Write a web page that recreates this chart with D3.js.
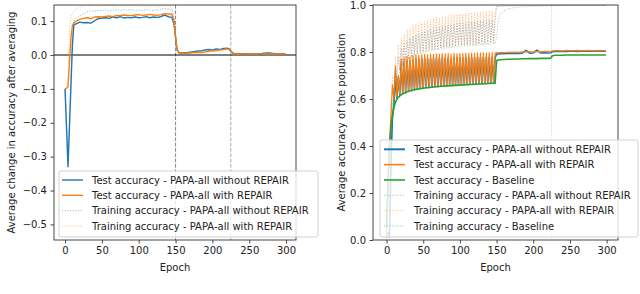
<!DOCTYPE html>
<html>
<head>
<meta charset="utf-8">
<script src="https://cdn.jsdelivr.net/npm/d3@7"></script>
<style>
  body { margin: 0; background: #fff; }
  svg text { font-family: "DejaVu Sans", sans-serif; }
</style>
</head>
<body>
<script>
/* ---------- Left panel: change in accuracy after averaging ---------- */
const epochsL = [0, 2, 4, 6, 8, 10, 12, 15, 20, 25,
  30, 35, 40, 45, 50, 55, 60, 65, 70, 75,
  80, 85, 90, 95, 100, 105, 110, 115, 120, 125,
  130, 135, 140, 145, 148, 150, 152, 155, 160, 165,
  170, 175, 180, 185, 190, 195, 200, 205, 210, 215,
  220, 223, 225, 228, 230, 235, 240, 245, 250, 255,
  260, 265, 270, 275, 280, 285, 290, 295, 299];

const testNoRepairL = [-0.100, -0.215, -0.330, -0.210, -0.090, 0.030, 0.089, 0.092, 0.097, 0.095,
  0.096, 0.094, 0.101, 0.107, 0.109, 0.110, 0.108, 0.112, 0.110, 0.113,
  0.109, 0.111, 0.110, 0.112, 0.110, 0.111, 0.113, 0.110, 0.112, 0.111,
  0.113, 0.118, 0.113, 0.111, 0.090, 0.050, 0.015, 0.007, 0.006, 0.007,
  0.008, 0.010, 0.012, 0.012, 0.015, 0.016, 0.014, 0.018, 0.016, 0.019,
  0.020, 0.018, 0.012, 0.005, 0.004, 0.004, 0.003, 0.004, 0.003, 0.004,
  0.004, 0.003, 0.005, 0.006, 0.005, 0.004, 0.004, 0.004, 0.003];

const testRepairL = [-0.100, -0.098, -0.095, -0.020, 0.050, 0.087, 0.095, 0.100, 0.105, 0.108,
  0.110, 0.107, 0.112, 0.113, 0.112, 0.114, 0.115, 0.113, 0.117, 0.116,
  0.118, 0.117, 0.116, 0.118, 0.119, 0.117, 0.118, 0.120, 0.118, 0.117,
  0.119, 0.122, 0.121, 0.120, 0.100, 0.055, 0.015, 0.005, 0.005, 0.005,
  0.006, 0.007, 0.008, 0.007, 0.009, 0.011, 0.012, 0.012, 0.015, 0.016,
  0.018, 0.017, 0.010, 0.004, 0.003, 0.003, 0.004, 0.003, 0.003, 0.004,
  0.003, 0.004, 0.004, 0.003, 0.004, 0.003, 0.004, 0.003, 0.003];

const trainNoRepairL = [-0.100, -0.210, -0.320, -0.200, -0.080, 0.050, 0.100, 0.108, 0.116, 0.121,
  0.127, 0.130, 0.129, 0.132, 0.131, 0.133, 0.130, 0.132, 0.134, 0.131,
  0.133, 0.132, 0.134, 0.131, 0.133, 0.132, 0.134, 0.133, 0.131, 0.133,
  0.135, 0.137, 0.136, 0.133, 0.110, 0.060, 0.015, 0.006, 0.006, 0.007,
  0.008, 0.009, 0.011, 0.012, 0.014, 0.015, 0.014, 0.017, 0.016, 0.018,
  0.019, 0.017, 0.011, 0.005, 0.004, 0.004, 0.003, 0.004, 0.004, 0.003,
  0.004, 0.004, 0.005, 0.005, 0.005, 0.004, 0.004, 0.004, 0.003];

const trainRepairL = [-0.100, -0.097, -0.090, 0.080, 0.110, 0.121, 0.128, 0.135, 0.141, 0.144,
  0.146, 0.145, 0.147, 0.146, 0.145, 0.147, 0.146, 0.145, 0.146, 0.147,
  0.145, 0.146, 0.147, 0.146, 0.145, 0.146, 0.144, 0.145, 0.146, 0.144,
  0.143, 0.145, 0.144, 0.140, 0.115, 0.062, 0.015, 0.005, 0.005, 0.006,
  0.006, 0.007, 0.008, 0.008, 0.009, 0.011, 0.012, 0.013, 0.014, 0.016,
  0.017, 0.016, 0.010, 0.004, 0.003, 0.003, 0.004, 0.003, 0.003, 0.004,
  0.003, 0.004, 0.004, 0.003, 0.004, 0.003, 0.004, 0.003, 0.003];

/* ---------- Right panel: average accuracy of the population ---------- */
const epochsR = [0, 2, 4, 6, 8, 10, 12, 14, 16, 18,
  20, 22, 24, 26, 28, 30, 32, 34, 36, 38,
  40, 42, 44, 46, 48, 50, 52, 54, 56, 58,
  60, 62, 64, 66, 68, 70, 72, 74, 76, 78,
  80, 82, 84, 86, 88, 90, 92, 94, 96, 98,
  100, 102, 104, 106, 108, 110, 112, 114, 116, 118,
  120, 122, 124, 126, 128, 130, 132, 134, 136, 138,
  140, 142, 144, 146, 148, 150, 152, 155, 160, 165,
  170, 175, 180, 185, 190, 195, 200, 205, 210, 215,
  220, 224, 226, 230, 235, 240, 245, 250, 255, 260,
  265, 270, 275, 280, 285, 290, 295, 299];

const testNoRepairR = [0.020, 0.030, 0.015, 0.320, 0.520, 0.570, 0.700, 0.606, 0.690, 0.615,
  0.750, 0.622, 0.757, 0.626, 0.762, 0.632, 0.760, 0.635, 0.766, 0.639,
  0.768, 0.641, 0.767, 0.644, 0.770, 0.645, 0.771, 0.648, 0.769, 0.648,
  0.772, 0.651, 0.771, 0.652, 0.773, 0.652, 0.772, 0.655, 0.774, 0.655,
  0.773, 0.657, 0.774, 0.658, 0.772, 0.657, 0.775, 0.660, 0.774, 0.659,
  0.775, 0.661, 0.774, 0.662, 0.776, 0.662, 0.775, 0.663, 0.776, 0.664,
  0.775, 0.664, 0.777, 0.665, 0.776, 0.666, 0.777, 0.666, 0.776, 0.667,
  0.777, 0.668, 0.778, 0.668, 0.777, 0.791, 0.792, 0.793, 0.793, 0.794,
  0.794, 0.795, 0.794, 0.795, 0.807, 0.795, 0.796, 0.808, 0.796, 0.797,
  0.796, 0.797, 0.801, 0.802, 0.802, 0.803, 0.802, 0.803, 0.803, 0.802,
  0.803, 0.803, 0.804, 0.803, 0.803, 0.804, 0.803, 0.803];

const testRepairR = [0.010, 0.250, 0.420, 0.530, 0.660, 0.598, 0.740, 0.611, 0.700, 0.620,
  0.770, 0.626, 0.776, 0.630, 0.781, 0.636, 0.779, 0.639, 0.785, 0.643,
  0.787, 0.645, 0.786, 0.648, 0.789, 0.649, 0.790, 0.652, 0.788, 0.652,
  0.791, 0.655, 0.790, 0.656, 0.792, 0.656, 0.791, 0.659, 0.793, 0.659,
  0.792, 0.661, 0.793, 0.662, 0.791, 0.661, 0.794, 0.664, 0.793, 0.663,
  0.794, 0.665, 0.793, 0.666, 0.795, 0.666, 0.794, 0.667, 0.795, 0.668,
  0.794, 0.668, 0.796, 0.669, 0.795, 0.670, 0.796, 0.670, 0.795, 0.671,
  0.796, 0.672, 0.797, 0.672, 0.796, 0.797, 0.796, 0.798, 0.797, 0.799,
  0.798, 0.800, 0.799, 0.801, 0.800, 0.802, 0.800, 0.802, 0.801, 0.803,
  0.802, 0.801, 0.805, 0.806, 0.806, 0.805, 0.807, 0.806, 0.806, 0.807,
  0.806, 0.806, 0.807, 0.806, 0.806, 0.807, 0.806, 0.806];

const testBaseR = [0.050, 0.250, 0.400, 0.480, 0.530, 0.565, 0.585, 0.598, 0.607, 0.613,
  0.618, 0.622, 0.625, 0.628, 0.631, 0.633, 0.635, 0.636, 0.638, 0.640,
  0.641, 0.642, 0.643, 0.645, 0.645, 0.646, 0.647, 0.648, 0.648, 0.649,
  0.650, 0.650, 0.651, 0.652, 0.652, 0.653, 0.653, 0.654, 0.654, 0.655,
  0.655, 0.656, 0.656, 0.657, 0.657, 0.657, 0.658, 0.658, 0.658, 0.659,
  0.659, 0.660, 0.660, 0.660, 0.661, 0.661, 0.661, 0.662, 0.662, 0.662,
  0.663, 0.663, 0.663, 0.664, 0.664, 0.664, 0.665, 0.665, 0.665, 0.666,
  0.666, 0.666, 0.667, 0.667, 0.667, 0.764, 0.766, 0.767, 0.768, 0.769,
  0.769, 0.770, 0.770, 0.771, 0.771, 0.772, 0.772, 0.772, 0.773, 0.773,
  0.773, 0.774, 0.784, 0.786, 0.786, 0.786, 0.787, 0.787, 0.787, 0.787,
  0.787, 0.787, 0.787, 0.787, 0.787, 0.787, 0.787, 0.787];

const trainNoRepairR = [0.030, 0.050, 0.030, 0.350, 0.560, 0.612, 0.730, 0.683, 0.780, 0.720,
  0.815, 0.742, 0.835, 0.757, 0.850, 0.769, 0.858, 0.778, 0.868, 0.786,
  0.874, 0.792, 0.880, 0.797, 0.886, 0.801, 0.889, 0.805, 0.893, 0.808,
  0.898, 0.810, 0.900, 0.813, 0.905, 0.815, 0.906, 0.817, 0.910, 0.819,
  0.912, 0.821, 0.915, 0.822, 0.916, 0.824, 0.919, 0.825, 0.920, 0.827,
  0.923, 0.828, 0.924, 0.829, 0.926, 0.830, 0.927, 0.831, 0.929, 0.832,
  0.930, 0.833, 0.931, 0.834, 0.932, 0.835, 0.934, 0.836, 0.935, 0.837,
  0.936, 0.838, 0.937, 0.839, 0.938, 0.993, 0.994, 0.995, 0.996, 0.996,
  0.997, 0.997, 0.997, 0.998, 0.998, 0.998, 0.998, 0.998, 0.998, 0.998,
  0.999, 0.999, 0.999, 0.999, 0.999, 0.999, 0.999, 0.999, 0.999, 0.999,
  0.999, 0.999, 0.999, 0.999, 0.999, 0.999, 0.999, 0.999];

const trainRepairR = [0.020, 0.260, 0.430, 0.550, 0.700, 0.615, 0.780, 0.685, 0.830, 0.720,
  0.860, 0.741, 0.875, 0.756, 0.895, 0.768, 0.900, 0.777, 0.912, 0.785,
  0.918, 0.791, 0.922, 0.796, 0.928, 0.800, 0.930, 0.804, 0.935, 0.807,
  0.940, 0.809, 0.942, 0.812, 0.948, 0.814, 0.947, 0.816, 0.952, 0.818,
  0.953, 0.820, 0.956, 0.821, 0.957, 0.823, 0.960, 0.824, 0.960, 0.826,
  0.963, 0.827, 0.963, 0.828, 0.966, 0.829, 0.966, 0.830, 0.968, 0.831,
  0.969, 0.832, 0.970, 0.833, 0.971, 0.834, 0.972, 0.835, 0.974, 0.836,
  0.975, 0.837, 0.976, 0.838, 0.977, 0.995, 0.996, 0.997, 0.997, 0.998,
  0.998, 0.998, 0.998, 0.999, 0.998, 0.999, 0.999, 0.999, 0.999, 0.999,
  0.999, 0.999, 0.999, 0.999, 0.999, 0.999, 0.999, 0.999, 0.999, 0.999,
  0.999, 0.999, 0.999, 0.999, 0.999, 0.999, 0.999, 0.999];

const trainBaseR = [0.050, 0.250, 0.400, 0.500, 0.565, 0.610, 0.650, 0.680, 0.700, 0.716,
  0.728, 0.738, 0.746, 0.753, 0.759, 0.765, 0.770, 0.774, 0.778, 0.782,
  0.785, 0.788, 0.791, 0.793, 0.795, 0.797, 0.799, 0.801, 0.802, 0.804,
  0.805, 0.806, 0.808, 0.809, 0.810, 0.811, 0.812, 0.813, 0.814, 0.815,
  0.816, 0.817, 0.818, 0.818, 0.819, 0.820, 0.821, 0.821, 0.822, 0.823,
  0.823, 0.824, 0.825, 0.825, 0.826, 0.826, 0.827, 0.827, 0.828, 0.828,
  0.829, 0.829, 0.830, 0.830, 0.831, 0.831, 0.832, 0.832, 0.833, 0.833,
  0.834, 0.834, 0.835, 0.835, 0.836, 0.860, 0.930, 0.962, 0.975, 0.982,
  0.986, 0.989, 0.991, 0.992, 0.993, 0.994, 0.995, 0.995, 0.996, 0.996,
  0.996, 0.997, 0.997, 0.997, 0.997, 0.998, 0.997, 0.998, 0.998, 0.998,
  0.998, 0.998, 0.998, 0.998, 0.998, 0.998, 0.998, 0.998];

const xTicks = [0, 50, 100, 150, 200, 250, 300];
const yTicksL = [0.1, 0.0, -0.1, -0.2, -0.3, -0.4, -0.5];
const yTicksR = [0.0, 0.2, 0.4, 0.6, 0.8, 1.0];

const blue = '#1f77b4', orange = '#ff7f0e', green = '#2ca02c';

const svg = d3.select('body').append('svg')
  .attr('width', 640)
  .attr('height', 294);

/* Un panel: ejes, líneas, leyenda */
function panel(cfg) {
  const x = d3.scaleLinear().domain(cfg.xDomain).range([cfg.left, cfg.right]);
  const y = d3.scaleLinear().domain(cfg.yDomain).range([cfg.bottom, cfg.top]);
  const g = svg.append('g');

  g.append('clipPath').attr('id', cfg.id)
    .append('rect')
    .attr('x', cfg.left).attr('y', cfg.top)
    .attr('width', cfg.right - cfg.left).attr('height', cfg.bottom - cfg.top);

  const plot = g.append('g').attr('clip-path', `url(#${cfg.id})`);

  cfg.vlines.forEach(v => {
    plot.append('line')
      .attr('x1', x(v.at)).attr('x2', x(v.at))
      .attr('y1', cfg.top).attr('y2', cfg.bottom)
      .attr('stroke', v.color).attr('stroke-width', v.width)
      .attr('stroke-dasharray', v.dash);
  });
  if (cfg.hline !== undefined) {
    plot.append('line')
      .attr('x1', cfg.left).attr('x2', cfg.right)
      .attr('y1', y(cfg.hline)).attr('y2', y(cfg.hline))
      .attr('stroke', '#000').attr('stroke-width', 1.2);
  }

  const line = d3.line().x(d => x(d[0])).y(d => y(d[1]));
  cfg.series.forEach(s => {
    const pts = cfg.epochs.map((e, i) => [e, s.values[i]]).filter(d => d[1] !== undefined);
    plot.append('path')
      .datum(pts)
      .attr('d', line)
      .attr('fill', 'none')
      .attr('stroke', s.color)
      .attr('stroke-width', s.width)
      .attr('stroke-opacity', s.opacity)
      .attr('stroke-dasharray', s.dash)
      .attr('stroke-linejoin', 'round');
  });

  /* ejes */
  const xAxis = g.append('g')
    .attr('transform', `translate(0,${cfg.bottom})`)
    .call(d3.axisBottom(x).tickValues(xTicks).tickSize(3.5).tickPadding(3.5));
  const yAxis = g.append('g')
    .attr('transform', `translate(${cfg.left},0)`)
    .call(d3.axisLeft(y).tickValues(cfg.yTicks).tickFormat(d3.format('.1f')).tickSize(3.5).tickPadding(3.5));
  [xAxis, yAxis].forEach(a => {
    a.select('.domain').remove();
    a.attr('font-family', null).attr('font-size', null);
    a.selectAll('line').attr('stroke', '#333').attr('stroke-width', 0.9);
    a.selectAll('text').attr('fill', '#222').style('font-size', '10px');
  });

  g.append('rect')
    .attr('x', cfg.left).attr('y', cfg.top)
    .attr('width', cfg.right - cfg.left).attr('height', cfg.bottom - cfg.top)
    .attr('fill', 'none').attr('stroke', '#333').attr('stroke-width', 0.9);

  g.append('text')
    .attr('x', (cfg.left + cfg.right) / 2).attr('y', 270.5)
    .attr('text-anchor', 'middle').style('font-size', '10px').attr('fill', '#222')
    .text('Epoch');
  g.append('text')
    .attr('transform', `translate(${cfg.yLabelX},${(cfg.top + cfg.bottom) / 2}) rotate(-90)`)
    .attr('text-anchor', 'middle').style('font-size', '10px').attr('fill', '#222')
    .text(cfg.yLabel);

  /* leyenda */
  const L = cfg.legend;
  const leg = g.append('g');
  leg.append('rect')
    .attr('x', L.x).attr('y', L.y).attr('width', L.w).attr('height', L.h)
    .attr('rx', 2)
    .attr('fill', '#fff').attr('fill-opacity', 0.8)
    .attr('stroke', '#ccc').attr('stroke-width', 0.9);
  const rows = leg.selectAll('g.row')
    .data(cfg.series)
    .join('g')
    .attr('class', 'row')
    .attr('transform', (d, i) => `translate(0,${L.row0 + i * 15.33})`);
  rows.append('line')
    .attr('x1', L.hx).attr('x2', L.hx + 21)
    .attr('stroke', d => d.color)
    .attr('stroke-width', d => d.legendWidth || d.width)
    .attr('stroke-opacity', d => d.opacity)
    .attr('stroke-dasharray', d => d.dash);
  rows.append('text')
    .attr('x', L.hx + 30).attr('y', 3.6)
    .style('font-size', '10px').attr('fill', '#222')
    .text(d => d.label);
}

const dotted = '1,1.65';

panel({
  id: 'clipL', left: 54, right: 296, top: 5, bottom: 240,
  xDomain: [-15, 313.5], yDomain: [-0.546, 0.1475],
  yTicks: yTicksL, yLabelX: 15,
  yLabel: 'Average change in accuracy after averaging',
  epochs: epochsL,
  hline: 0,
  vlines: [
    { at: 150, color: '#888', width: 1, dash: '3.7,1.6' },
    { at: 225, color: '#aaa', width: 1, dash: '3.7,1.6' }
  ],
  series: [
    { label: 'Test accuracy - PAPA-all without REPAIR', values: testNoRepairL, color: blue, width: 1.4, opacity: 1, dash: null },
    { label: 'Test accuracy - PAPA-all with REPAIR', values: testRepairL, color: orange, width: 1.4, opacity: 1, dash: null },
    { label: 'Training accuracy - PAPA-all without REPAIR', values: trainNoRepairL, color: blue, width: 0.9, opacity: 0.6, dash: dotted },
    { label: 'Training accuracy - PAPA-all with REPAIR', values: trainRepairL, color: orange, width: 0.9, opacity: 0.6, dash: dotted }
  ],
  legend: { x: 59, y: 171, w: 259, h: 66, row0: 180, hx: 62 }
});

panel({
  id: 'clipR', left: 373, right: 618, top: 5, bottom: 240,
  xDomain: [-18.5, 315.5], yDomain: [0, 1],
  yTicks: yTicksR, yLabelX: 344.6,
  yLabel: 'Average accuracy of the population',
  epochs: epochsR,
  vlines: [
    { at: 225, color: '#bbb', width: 0.8, dash: '1,1.5' }
  ],
  series: [
    { label: 'Test accuracy - PAPA-all without REPAIR', values: testNoRepairR, color: blue, width: 1.6, legendWidth: 2, opacity: 1, dash: null },
    { label: 'Test accuracy - PAPA-all with REPAIR', values: testRepairR, color: orange, width: 1.2, legendWidth: 1.6, opacity: 1, dash: null },
    { label: 'Test accuracy - Baseline', values: testBaseR, color: green, width: 1.6, legendWidth: 1.6, opacity: 1, dash: null },
    { label: 'Training accuracy - PAPA-all without REPAIR', values: trainNoRepairR, color: blue, width: 0.8, opacity: 0.6, dash: dotted },
    { label: 'Training accuracy - PAPA-all with REPAIR', values: trainRepairR, color: orange, width: 0.8, opacity: 0.6, dash: dotted },
    { label: 'Training accuracy - Baseline', values: trainBaseR, color: green, width: 0.8, opacity: 0.6, dash: dotted }
  ],
  legend: { x: 380, y: 140, w: 258, h: 97, row0: 149.3, hx: 384 }
});
</script>
</body>
</html>
